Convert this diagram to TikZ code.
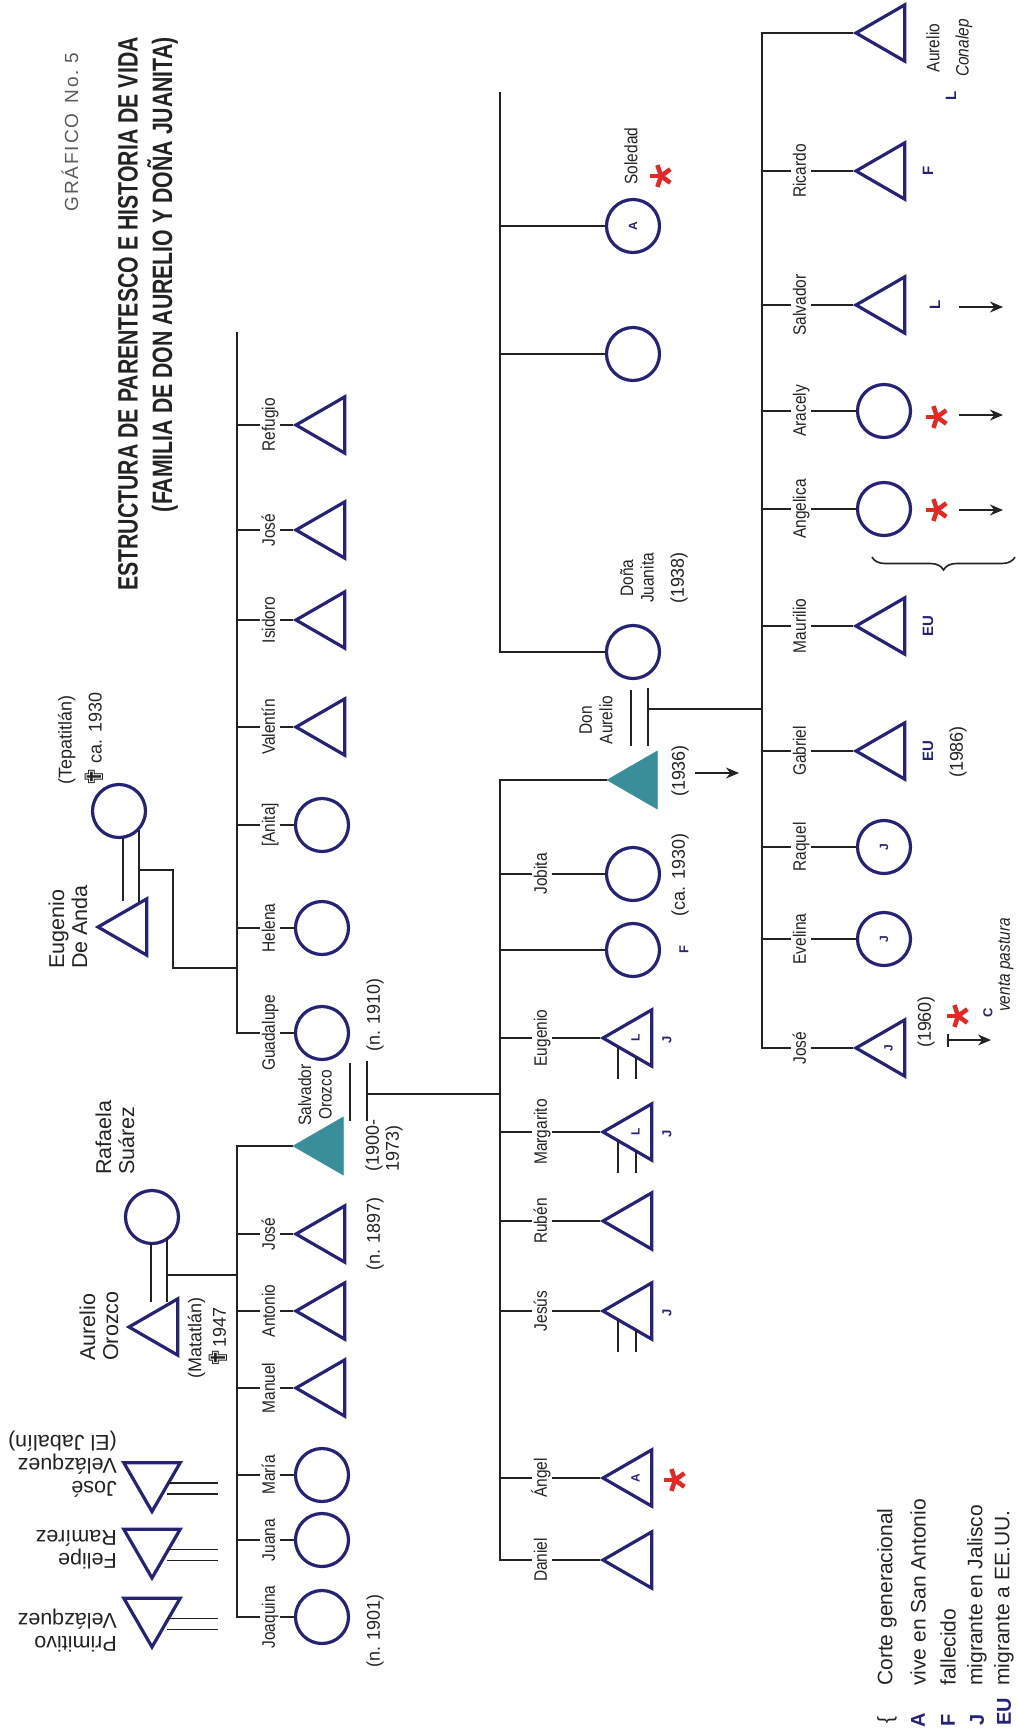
\documentclass[tikz,border=0pt]{standalone}
\usepackage{fontspec}
\setmainfont{Liberation Sans}
\newfontfamily\namefont{Liberation Sans}[FakeStretch=0.86]
\newfontfamily\datefont{Liberation Sans}[FakeStretch=0.97]
\newfontfamily\titlefont{Liberation Sans Bold}[FakeStretch=0.76]
\newfontfamily\symfont{DejaVu Sans}
\usetikzlibrary{shapes.geometric,arrows.meta,decorations.pathreplacing}
\definecolor{navy}{RGB}{38,34,118}
\definecolor{tealc}{RGB}{58,142,154}
\definecolor{redc}{RGB}{230,40,36}
\definecolor{ink}{RGB}{35,35,35}
\definecolor{grafgray}{RGB}{90,90,90}
\newcommand{\dcross}{\smash{\raisebox{-1.5pt}{\scalebox{1.4}{\symfont\fontsize{18}{18}\selectfont ✟}}}}
\tikzset{
  conn/.style={draw=ink, line width=1.8pt},
  symb/.style={draw=navy, line width=3.2pt, inner sep=0pt, text=navy, font=\bfseries\fontsize{12}{12}\selectfont},
  tri/.style={symb, regular polygon, regular polygon sides=3, minimum size=65pt, rotate=90},
  itri/.style={symb, regular polygon, regular polygon sides=3, minimum size=65pt, rotate=180},
  tealtri/.style={regular polygon, regular polygon sides=3, minimum size=67pt, rotate=90, fill=tealc, draw=tealc, line width=0.5pt, inner sep=0pt},
  circ/.style={symb, circle, minimum size=53pt, rotate=90},
  nm/.style={font=\namefont\fontsize{18}{20.5}\selectfont, text=ink, rotate=90, inner sep=1pt, align=center},
  nmw/.style={font=\namefont\fontsize{18}{20.5}\selectfont, text=ink, rotate=90, inner sep=2pt, fill=white, text height=13pt, text depth=3.5pt},
  dt/.style={font=\datefont\fontsize{18.5}{20}\selectfont, text=ink, rotate=90, inner sep=0pt},
  lblbase/.style={font=\fontsize{21.5}{23}\selectfont, text=ink, inner sep=0pt, align=left},
  lbl/.style={lblbase, rotate=90},
  ulbl/.style={lblbase, rotate=180},
  mk/.style={font=\bfseries\fontsize{15}{15}\selectfont, text=navy, rotate=90, inner sep=0pt},
  mks/.style={font=\bfseries\fontsize{13}{13}\selectfont, text=navy, rotate=90, inner sep=0pt},
  mkl/.style={font=\bfseries\fontsize{20}{20}\selectfont, text=navy, rotate=90, inner sep=0pt},
  arr/.style={draw=ink, line width=1.8pt, -{Stealth[length=13pt,width=11pt]}},
  ast/.pic={\foreach \a in {180,108,252,36,324} \draw[redc, line width=4.5pt] (0,0) -- (\a:11.5);}
}
\begin{document}
\begin{tikzpicture}[x=1pt,y=-1pt]
\useasboundingbox (0,0) rectangle (1017,1733);

% ---------- title ----------
\node[anchor=east, rotate=90, align=right, text=ink, inner sep=0pt,
      font=\titlefont\fontsize{28}{34.5}\selectfont] (title) at (148,37)
  {ESTRUCTURA DE PARENTESCO E HISTORIA DE VIDA\\(FAMILIA DE DON AURELIO Y DOÑA JUANITA)};
\node[rotate=90, text=grafgray, inner sep=0pt,
      font=\fontsize{19}{19}\selectfont\addfontfeature{LetterSpace=10}] (graf) at (70,132)
  {GRÁFICO\hspace{10pt}No.\hspace{7pt}5};

% ---------- generation 0 ----------
\node[circ] (tepa) at (119,811) {};
\node[tri] (eda) at (130.5,927) {};
\node[lbl, anchor=west] (edaL) at (68,969) {Eugenio\\De Anda};
\node[dt, align=center, font=\datefont\fontsize{18.5}{30}\selectfont] (tepaL) at (80,740)
  {(Tepatitlán)\\\dcross\,ca. 1930};

\node[circ] (raf) at (152,1217) {};
\node[tri] (ao) at (161.5,1327) {};
\node[lbl, anchor=west] (aoL) at (99,1361) {Aurelio\\Orozco};
\node[lbl, anchor=west] (rafL) at (115,1175) {Rafaela\\Suárez};
\node[dt, align=center, font=\datefont\fontsize{18.5}{24.5}\selectfont] (aoD) at (207,1338)
  {(Matatlán)\\\dcross1947};

\node[itri] (jv) at (152,1479) {};
\node[itri] (fr) at (152,1545.5) {};
\node[itri] (pv) at (152,1614.5) {};
\node[ulbl, anchor=west] (jvL) at (117,1464) {José\\Velázquez\\(El Jabalín)};
\node[ulbl, anchor=west] (frL) at (117,1550) {Felipe\\Ramírez};
\node[ulbl, anchor=west] (pvL) at (117,1631) {Primitivo\\Velázquez};
\foreach \n in {jv,fr,pv}{
  \draw[conn] ([shift={(15,4)}]\n.center) -- ++(51,0);
  \draw[conn] ([shift={(15,15)}]\n.center) -- ++(51,0);
}

% marriages gen 0
\draw[conn] ([shift={(4,27)}]tepa.center) -- ([shift={(-7.5,-26)}]eda.center);
\draw[conn] ([shift={(20,19)}]tepa.center) -- ([shift={(8.5,-25)}]eda.center);
\coordinate (jEDA) at ([shift={(8.5,-57)}]eda.center);
\coordinate (barDA) at (237,968);
\draw[conn] (jEDA) -- (173,870) -- (173,968) -- (barDA);

\draw[conn] ([shift={(-1,26)}]raf.center) -- ([shift={(-10.5,-25)}]ao.center);
\draw[conn] ([shift={(15,21)}]raf.center) -- ([shift={(5.5,-25)}]ao.center);
\coordinate (jAO) at ([shift={(5.5,-52)}]ao.center);
\coordinate (barAO) at (237,1275);
\draw[conn] (jAO) -- (barAO);

% ---------- generation 1 ----------
\node[tri] (refugio) at (328.5,425) {};
\node[tri] (joseDA) at (328.5,530) {};
\node[tri] (isidoro) at (328.5,620) {};
\node[tri] (valentin) at (328.5,727) {};
\node[circ] (anita) at (322,825) {};
\node[circ] (helena) at (322,928) {};
\node[circ] (guadalupe) at (322,1033) {};

\node[tealtri] (salvO) at (326.5,1146) {};
\node[tri] (joseO) at (328.5,1234) {};
\node[tri] (antonio) at (328.5,1311) {};
\node[tri] (manuel) at (328.5,1388) {};
\node[circ] (maria) at (322,1475) {};
\node[circ] (juana) at (322,1540) {};
\node[circ] (joaquina) at (322,1617) {};

\draw[conn] (237,332) -- (237,1033) -- (guadalupe.north);
\foreach \n/\y in {refugio/425, joseDA/530, isidoro/620, valentin/727}
  \draw[conn] (237,\y) -- (\n.corner 1);
\foreach \n/\y in {anita/825, helena/928}
  \draw[conn] (237,\y) -- (\n.north);
\draw[conn] (salvO.corner 1) -- (237,1146) -- (237,1617) -- (joaquina.north);
\foreach \n/\y in {joseO/1234, antonio/1311, manuel/1388}
  \draw[conn] (237,\y) -- (\n.corner 1);
\foreach \n/\y in {maria/1475, juana/1540}
  \draw[conn] (237,\y) -- (\n.north);

\node[nmw] (nRefugio) at (270,425) {Refugio};
\node[nmw] (nJoseDA) at (270,530) {José};
\node[nmw] (nIsidoro) at (270,620) {Isidoro};
\node[nmw] (nValentin) at (270,727) {Valentín};
\node[nmw] (nAnita) at (270,825) {[Anita]};
\node[nmw] (nHelena) at (270,928) {Helena};
\node[nmw] (nGuadalupe) at (270,1033) {Guadalupe};
\node[nmw] (nJoseO) at (270,1234) {José};
\node[nmw] (nAntonio) at (270,1311) {Antonio};
\node[nmw] (nManuel) at (270,1388) {Manuel};
\node[nmw] (nMaria) at (270,1475) {María};
\node[nmw] (nJuana) at (270,1540) {Juana};
\node[nmw] (nJoaquina) at (270,1617) {Joaquina};

\node[nm] (nSalvO) at (315,1095) {Salvador\\Orozco};
\node[dt] (dGuad) at (375,1015) {(n. 1910)};
\node[dt, anchor=west, align=left] (dSalvO) at (384,1172) {(1900-\\1973)};
\node[dt] (dJoseO) at (375,1234) {(n. 1897)};
\node[dt] (dJoaq) at (375,1631) {(n. 1901)};

% marriage Salvador - Guadalupe
\draw[conn] ([shift={(28,30)}]guadalupe.center) -- ([shift={(23.5,-25)}]salvO.center);
\draw[conn] ([shift={(45,28)}]guadalupe.center) -- ([shift={(40.5,-25)}]salvO.center);
\coordinate (jSG) at ([shift={(40.5,-52)}]salvO.center);
\coordinate (barSG) at (500,1094);
\draw[conn] (jSG) -- (barSG);

% ---------- generation 2 ----------
\node[circ] (soledad) at (633,226) {A};
\node[circ] (sis2) at (633,354) {};
\node[circ] (juanita) at (633,652) {};
\node[tealtri] (donA) at (640.5,780) {};
\node[circ] (jobita) at (633,874) {};
\node[circ] (fcirc) at (633,950) {};
\node[tri] (eugenio) at (635.5,1038) {L};
\node[tri] (margarito) at (635.5,1132) {L};
\node[tri] (ruben) at (635.5,1221) {};
\node[tri] (jesus) at (635.5,1311) {};
\node[tri] (angel) at (635.5,1478) {A};
\node[tri] (daniel) at (635.5,1560) {};

\draw[conn] (500,92) -- (500,652) -- (juanita.north);
\foreach \n/\y in {soledad/226, sis2/354}
  \draw[conn] (500,\y) -- (\n.north);
\draw[conn] (donA.corner 1) -- (500,780) -- (500,1560) -- (daniel.corner 1);
\foreach \n/\y in {jobita/874, fcirc/950}
  \draw[conn] (500,\y) -- (\n.north);
\foreach \n/\y in {eugenio/1038, margarito/1132, ruben/1221, jesus/1311, angel/1478}
  \draw[conn] (500,\y) -- (\n.corner 1);
\foreach \n in {eugenio, margarito, jesus}{
  \draw[conn] ([shift={(-17.5,9)}]\n.center) -- ([shift={(-17.5,41)}]\n.center);
  \draw[conn] ([shift={(0.5,19)}]\n.center) -- ([shift={(0.5,41)}]\n.center);
}

\node[nmw] (nJobita) at (542,874) {Jobita};
\node[nmw] (nEugenio) at (542,1038) {Eugenio};
\node[nmw] (nMargarito) at (542,1132) {Margarito};
\node[nmw] (nRuben) at (542,1221) {Rubén};
\node[nmw] (nJesus) at (542,1311) {Jesús};
\node[nmw] (nAngel) at (542,1478) {Ángel};
\node[nmw] (nDaniel) at (542,1560) {Daniel};

\node[nm] (nSoledad) at (631,156) {Soledad};
\pic at (661,176) {ast};
\node[nm] (nJuanita) at (637,578) {Doña\\Juanita};
\node[dt] (dJuanita) at (679,578) {(1938)};
\node[nm] (nDonA) at (596,720) {Don\\Aurelio};
\node[dt] (dDonA) at (680,771) {(1936)};
\coordinate (a1s) at (695,773); \coordinate (a1e) at (739,773);
\draw[arr] (a1s) -- (a1e);
\node[dt] (dJobita) at (680,875) {(ca. 1930)};
\node[mks] (mF2) at (684,950) {F};
\node[mks] (mJ1) at (667,1040) {J};
\node[mks] (mJ2) at (667,1134) {J};
\node[mks] (mJ3) at (667,1313) {J};
\pic at (675,1480) {ast};

% marriage Don Aurelio - Doña Juanita
\draw[conn] ([shift={(-2,38)}]juanita.center) -- ([shift={(-9.5,-34)}]donA.center);
\draw[conn] ([shift={(15,36)}]juanita.center) -- ([shift={(7.5,-34)}]donA.center);
\coordinate (jDJ) at ([shift={(7.5,-71)}]donA.center);
\coordinate (barDJ) at (762,709);
\draw[conn] (jDJ) -- (barDJ);

% ---------- generation 3 ----------
\node[tri] (aurelio3) at (888.5,33) {};
\node[tri] (ricardo) at (888.5,171) {};
\node[tri] (salvador3) at (888.5,305) {};
\node[circ] (aracely) at (884,411) {};
\node[circ] (angelica) at (884,509) {};
\node[tri] (maurilio) at (888.5,626) {};
\node[tri] (gabriel) at (888.5,751) {};
\node[circ] (raquel) at (884,847) {J};
\node[circ] (evelina) at (884,939) {J};
\node[tri] (jose3) at (888.5,1048) {J};

\draw[conn] (aurelio3.corner 1) -- (762,33) -- (762,1048) -- (jose3.corner 1);
\foreach \n/\y in {ricardo/171, salvador3/305, maurilio/626, gabriel/751}
  \draw[conn] (762,\y) -- (\n.corner 1);
\foreach \n/\y in {aracely/411, angelica/509, raquel/847, evelina/939}
  \draw[conn] (762,\y) -- (\n.north);

\node[nmw] (nRicardo) at (801,171) {Ricardo};
\node[nmw] (nSalvador3) at (801,305) {Salvador};
\node[nmw] (nAracely) at (801,411) {Aracely};
\node[nmw] (nAngelica) at (801,509) {Angelica};
\node[nmw] (nMaurilio) at (801,626) {Maurilio};
\node[nmw] (nGabriel) at (801,751) {Gabriel};
\node[nmw] (nRaquel) at (801,847) {Raquel};
\node[nmw] (nEvelina) at (801,939) {Evelina};
\node[nmw] (nJose3) at (801,1048) {José};

\node[nm] (nAurelio3) at (933,48) {Aurelio};
\node[nm, font=\namefont\itshape\fontsize{18}{20.5}\selectfont] (nConalep) at (964,48) {Conalep};
\node[mk] (mL0) at (951,96) {L};
\node[mk] (mF3) at (928,171) {F};
\node[mk] (mL3) at (935,305) {L};
\pic at (937,417) {ast};
\pic at (937,510) {ast};
\node[mk] (mEU1) at (928,626) {EU};
\node[mk] (mEU2) at (928,751) {EU};
\node[dt] (dGab) at (958,752) {(1986)};
\node[dt] (dJose3) at (926,1022) {(1960)};
\pic at (958,1016) {ast};
\node[mks] (mC) at (988,1013) {C};
\node[nm, font=\namefont\itshape\fontsize{18}{20.5}\selectfont] (venta) at (1006,965) {venta pastura};

\coordinate (a2s) at (959,307); \coordinate (a2e) at (1003,307);
\coordinate (a3s) at (959,415); \coordinate (a3e) at (1003,415);
\coordinate (a4s) at (959,510); \coordinate (a4e) at (1003,510);
\coordinate (a5s) at (947,1040); \coordinate (a5e) at (991,1040);
\draw[arr] (a2s) -- (a2e);
\draw[arr] (a3s) -- (a3e);
\draw[arr] (a4s) -- (a4e);
\draw[draw=ink, line width=1.8pt, {Bar[width=13pt]}-{Stealth[length=13pt,width=11pt]}] (a5s) -- (a5e);

% generational cut brace
\coordinate (brA) at (1015,557); \coordinate (brB) at (872,557);
\draw[ink, line width=1.6pt, decorate, decoration={brace, amplitude=13pt}] (brA) -- (brB);

% ---------- legend ----------
\node[lbl, font=\fontsize{21}{21}\selectfont] (lg0s) at (887,1720) {\{};
\node[mkl] (lg1s) at (918,1720) {A};
\node[mkl] (lg2s) at (948,1720) {F};
\node[mkl] (lg3s) at (977,1720) {J};
\node[mkl] (lg4s) at (1004,1712) {EU};
\node[lbl, anchor=west, font=\fontsize{21}{21}\selectfont] (lg0) at (887,1686) {Corte generacional};
\node[lbl, anchor=west, font=\fontsize{21}{21}\selectfont] (lg1) at (918,1686) {vive en San Antonio};
\node[lbl, anchor=west, font=\fontsize{21}{21}\selectfont] (lg2) at (948,1686) {fallecido};
\node[lbl, anchor=west, font=\fontsize{21}{21}\selectfont] (lg3) at (977,1686) {migrante en Jalisco};
\node[lbl, anchor=west, font=\fontsize{21}{21}\selectfont] (lg4) at (1004,1686) {migrante a EE.UU.};
\end{tikzpicture}
\end{document}
